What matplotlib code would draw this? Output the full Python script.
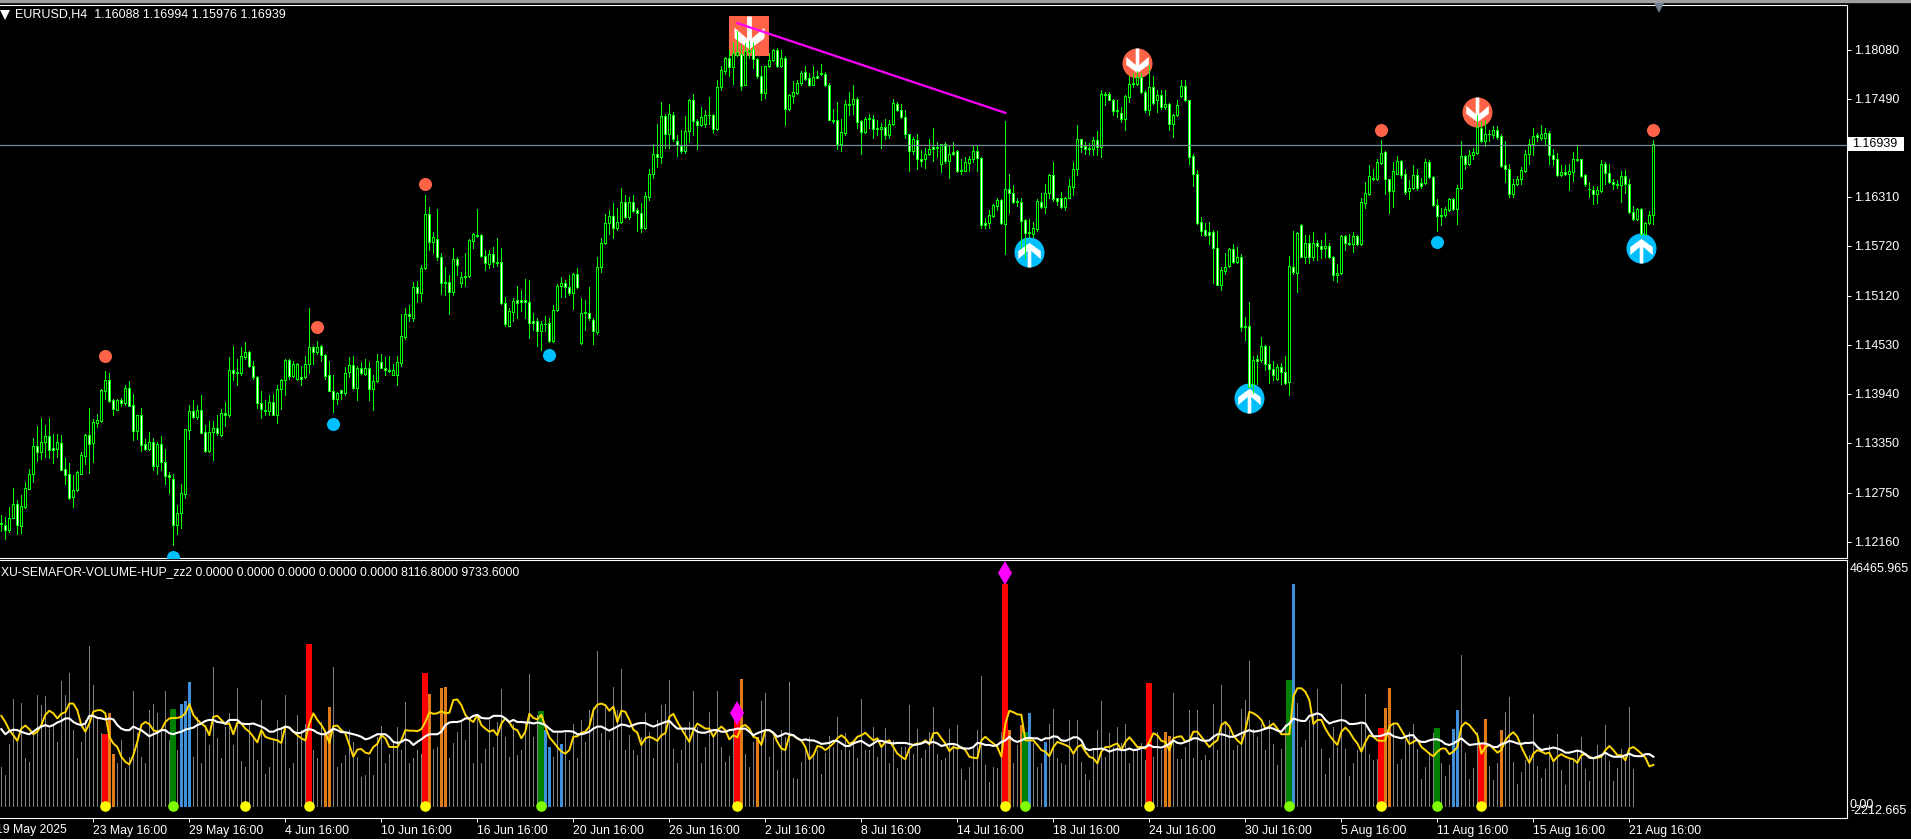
import numpy as np
import matplotlib
matplotlib.use("Agg")
import matplotlib.pyplot as plt
from matplotlib.path import Path
from matplotlib.lines import Line2D
from matplotlib.patches import Rectangle

W, H = 1911, 839
plt.rcParams['font.family'] = ['Liberation Sans', 'DejaVu Sans']

# prices are pips above 1.1000
opens = [237,236,230,244,261,235,258,279,298,331, 324,336,343,329,328,335,303,297,270,278,
 298,319,344,335,359,361,397,411,386,375, 386,383,401,380,349,368,333,327,336,307,
 334,312,296,292,236,250,273,350,373,366, 375,348,325,348,353,344,371,368,422,419,
 419,438,444,427,414,383,375,373,384,369, 400,411,435,415,412,414,414,430,450,444,
 451,441,416,397,388,398,395,420,429,401, 425,418,425,400,409,432,425,422,417,417,
 431,462,490,485,522,515,545,610,577,580, 559,529,529,517,556,527,535,536,578,585,
 585,560,550,562,553,552,503,476,492,507, 507,507,504,482,482,470,478,479,457,495,
 524,527,523,515,538,455,492,491,483,468, 546,576,600,608,593,601,625,607,625,615,
 611,593,631,658,683,679,728,707,729,698, 692,686,710,747,722,718,719,730,729,713,
 763,783,798,787,802,803,766,805,809,797, 776,756,788,796,808,788,798,737,752,756,
 768,781,774,766,776,780,779,766,724,723, 694,708,743,743,749,722,709,725,725,714,
 713,715,705,719,743,735,727,706,686,699, 677,676,683,691,691,671,694,674,685,686,
 662,662,672,676,686,678,600,599,608,620, 627,598,641,636,625,625,603,589,586,592,
 625,619,635,657,629,629,619,630,643,665, 700,692,690,689,699,691,755,755,748,735,
 732,725,751,768,767,775,757,735,763,747, 754,739,743,719,729,752,764,747,680,659,
 601,591,589,589,570,525,542,548,568,552, 558,475,475,406,436,435,452,430,424,412,
 426,420,408,547,539,597,559,575,559,576, 572,569,572,559,537,539,584,576,574,584,
 574,624,634,654,652,672,685,652,638,659, 674,659,638,642,657,648,648,673,655,621,
 609,609,615,628,616,642,680,670,681,684, 714,698,707,705,712,704,669,664,634,647,
 653,662,683,694,705,702,702,708,681,677, 657,661,659,661,676,676,657,641,639,634,
 638,671,660,649,647,645,656,647,613,604, 616,586,600,609]
highs = [248,246,258,280,266,272,288,303,341,355, 365,356,365,345,346,344,317,311,296,301,
 324,346,377,364,370,400,421,419,388,388, 389,404,409,394,369,377,340,348,341,336,
 343,327,300,298,260,285,351,381,386,381, 392,356,361,361,369,376,384,438,451,436,
 450,456,445,434,415,397,386,393,394,405, 412,436,436,434,431,427,439,497,452,458,
 453,442,433,417,396,399,426,438,440,427, 432,436,432,416,442,442,438,440,430,440,
 490,497,501,528,530,549,633,619,589,616, 563,547,537,570,558,540,563,580,588,616,
 586,567,567,571,581,570,510,497,509,524, 519,532,531,491,485,481,487,485,501,526,
 534,531,537,539,545,509,507,522,485,558, 582,610,615,623,618,642,633,631,633,617,
 623,637,664,695,719,745,731,743,733,705, 711,728,749,755,725,739,735,751,731,772,
 788,799,808,817,830,814,816,818,816,798, 788,789,804,809,810,808,800,755,770,772,
 783,788,780,788,782,791,781,768,737,745, 725,748,757,765,751,723,727,731,729,723,
 720,725,723,749,745,743,735,707,703,707, 687,690,701,714,697,695,697,693,697,687,
 677,679,680,693,692,679,606,615,622,630, 628,722,659,645,629,629,604,604,601,628,
 636,646,659,673,630,637,631,653,673,717, 701,697,696,703,710,760,757,757,749,747,
 739,753,776,780,782,780,760,790,776,760, 759,760,744,731,747,772,771,748,682,663,
 607,600,601,591,590,547,563,570,574,571, 562,486,505,439,441,462,453,451,434,430,
 431,439,560,590,589,598,585,585,589,579, 579,588,575,560,550,585,585,586,589,585,
 629,649,669,665,677,699,686,653,673,680, 675,665,651,669,665,654,676,675,656,628,
 617,619,630,630,645,698,681,687,690,730, 722,724,712,716,716,707,698,670,653,656,
 667,687,700,714,708,717,714,710,689,684, 669,669,671,685,693,677,658,649,644,644,
 675,673,671,653,651,662,663,653,620,617, 617,601,614,699]
lows = [229,219,228,244,225,226,257,279,288,313, 315,318,317,311,318,302,286,267,258,277,
 298,309,299,312,354,360,388,384,369,374, 379,381,379,338,340,325,326,326,302,297,
 302,285,275,212,225,232,269,340,365,364, 347,324,324,314,344,343,355,366,410,405,
 416,436,426,412,377,365,368,369,368,359, 376,393,412,414,410,405,413,419,430,442,
 434,412,397,372,382,388,393,414,400,387, 418,417,387,374,408,425,417,420,416,405,
 427,460,482,482,505,506,544,567,563,555, 514,513,490,513,537,523,524,535,570,583,
 559,543,545,547,548,502,475,475,481,485, 493,485,461,471,451,447,470,456,456,493,
 511,511,513,496,521,454,471,483,454,466, 540,574,586,581,591,600,606,604,613,590,
 589,592,627,654,667,672,690,690,698,680, 684,684,697,705,688,716,715,719,708,711,
 760,779,776,767,800,760,765,798,786,774, 747,750,787,795,787,787,717,735,744,755,
 766,772,764,765,774,777,764,724,720,688, 686,705,729,731,714,682,708,714,702,705,
 690,701,702,718,734,726,702,662,683,665, 668,666,681,674,679,661,672,654,681,661,
 659,662,662,673,662,593,593,594,607,615, 598,562,611,624,620,569,557,583,583,590,
 618,612,630,626,621,618,615,629,633,657, 685,683,683,681,681,679,741,747,729,727,
 721,711,745,763,766,756,733,729,743,733, 737,737,711,703,728,751,746,670,644,598,
 585,584,574,527,525,519,538,547,551,551, 469,459,402,395,406,432,422,407,410,411,
 406,406,393,538,517,558,551,551,555,555, 557,559,557,531,529,538,567,573,565,573,
 573,618,633,651,651,670,634,612,619,658, 654,634,628,641,639,642,646,654,620,590,
 597,607,614,615,598,641,665,669,676,683, 697,692,698,702,700,667,649,631,631,645,
 647,661,671,681,698,699,693,670,669,656, 656,657,639,650,674,655,644,631,622,623,
 637,647,648,641,642,625,636,612,603,603, 585,585,598,598]
closes = [238,230,244,261,236,259,280,297,331,324, 336,343,326,326,336,302,296,269,278,300,
 320,344,334,360,363,398,411,385,376,386, 383,401,379,349,368,332,328,336,307,334,
 312,295,294,236,250,274,351,373,366,374, 347,325,348,353,347,371,368,422,419,420,
 439,444,427,414,383,376,373,384,369,400, 411,435,415,430,430,412,430,450,444,450,
 441,415,397,388,395,395,419,429,401,425, 419,425,400,409,433,425,422,421,422,432,
 463,490,488,522,515,545,610,577,583,559, 527,527,517,556,549,535,536,579,586,584,
 560,551,562,553,551,503,478,493,506,503, 504,504,479,479,470,478,478,457,495,524,
 527,523,515,538,522,491,491,485,469,546, 576,600,608,593,601,625,607,625,614,611,
 593,632,659,683,679,728,707,731,700,693, 686,710,747,722,717,727,730,729,713,763,
 784,798,787,804,805,764,806,808,797,776, 756,788,796,808,788,798,737,753,757,768,
 780,773,766,775,774,779,766,724,722,695, 709,743,742,749,721,709,725,725,713,713,
 715,705,719,744,735,727,706,686,701,676, 674,683,689,689,690,694,674,683,683,662,
 663,673,676,686,678,597,597,609,621,627, 599,640,636,625,625,602,588,587,593,626,
 619,636,657,628,626,619,630,644,665,700, 691,689,689,699,691,755,754,748,734,734,
 725,752,767,767,775,757,735,763,744,753, 739,743,719,729,741,764,747,679,658,599,
 590,585,585,570,525,543,547,568,552,558, 474,474,402,435,434,452,430,424,417,426,
 420,407,548,540,588,559,576,559,576,572, 568,572,559,537,539,584,576,574,584,574,
 625,635,656,652,673,684,652,638,662,674, 657,637,642,657,642,644,673,655,621,608,
 608,616,628,616,642,680,670,681,685,715, 698,707,706,712,703,668,664,634,647,653,
 663,683,695,704,703,707,708,681,677,657, 661,659,662,676,675,656,646,640,634,639,
 671,660,649,647,645,656,647,613,604,616, 586,600,609,694]

# volume in thousands
volume = [7.7,6.1,12.2,21.0,12.6,20.2,9.4,8.7,14.6,21.8, 19.8,21.6,15.2,16.2,12.6,24.5,21.8,26.0,14.9,9.4,
 12.6,16.9,31.4,23.7,17.5,14.3,14.1,18.2,10.3,8.4, 12.9,7.4,9.7,22.6,14.3,9.7,8.4,18.8,20.1,18.2,
 14.9,22.6,12.9,19.0,11.0,20.0,20.6,24.3,9.7,17.5, 8.4,15.9,12.0,27.3,13.3,9.4,15.6,18.2,12.0,23.1,
 8.9,7.7,16.2,13.6,9.0,20.8,6.4,7.7,12.9,16.9, 15.6,21.8,7.4,8.4,17.9,14.9,16.2,31.8,11.0,9.4,
 16.5,14.6,19.4,27.3,7.7,8.4,10.0,14.9,12.6,9.7, 5.8,6.1,9.7,6.1,13.6,15.7,8.4,10.3,12.3,15.6,
 11.0,20.5,8.4,9.4,11.0,10.3,26.1,22.0,11.3,11.6, 23.2,23.3,9.4,12.3,14.6,16.9,12.9,16.9,8.4,17.9,
 8.4,11.2,16.9,11.6,16.5,22.9,13.6,9.7,16.2,10.0, 11.0,16.5,25.8,13.6,17.9,18.6,14.9,11.6,9.7,14.3,
 12.2,14.3,9.0,16.2,9.4,16.9,12.6,18.8,19.5,30.3, 14.3,19.5,12.9,23.3,18.8,26.8,11.0,13.9,11.0,10.0,
 13.6,18.2,14.6,9.4,16.9,19.8,20.1,24.7,11.3,8.4, 11.0,15.6,16.5,22.6,15.6,8.4,11.6,18.4,13.6,22.6,
 11.6,8.7,9.8,14.9,16.7,24.9,10.2,7.7,12.6,13.6, 20.6,22.1,9.7,13.6,7.2,14.9,13.6,24.3,5.6,5.4,
 8.6,11.0,13.6,9.7,11.0,6.4,10.5,13.7,11.6,17.4, 11.0,14.3,11.0,12.9,9.4,21.0,11.0,11.1,15.6,9.7,
 11.6,15.4,8.4,12.9,7.5,11.6,11.6,19.8,10.2,15.2, 9.4,11.0,14.6,19.4,10.3,9.0,9.4,15.2,12.3,15.9,
 7.3,5.1,7.7,11.6,14.9,25.5,8.0,4.8,7.7,7.4, 14.6,43.6,14.9,8.4,12.0,15.9,14.6,18.2,12.3,7.7,
 8.4,12.6,16.2,19.0,9.4,8.4,8.0,16.9,10.3,16.9, 8.7,6.4,5.1,11.3,14.9,20.6,9.7,14.3,11.6,15.6,
 12.3,16.1,8.4,11.0,11.0,12.3,9.0,24.1,9.7,14.6, 11.0,14.5,13.7,22.1,9.2,9.2,11.6,18.8,9.4,18.8,
 9.0,10.0,9.0,20.0,11.0,23.7,16.5,14.9,11.0,12.0, 19.0,20.8,28.4,15.2,13.6,16.1,11.0,16.9,12.2,8.0,
 11.2,16.1,24.7,43.6,20.3,11.6,12.9,16.9,18.2,23.0, 11.2,6.4,9.4,15.6,11.6,23.9,11.3,5.9,8.4,11.0,
 16.2,22.0,10.3,9.0,9.2,15.4,19.2,23.2,16.2,8.2, 9.2,12.9,14.6,16.1,11.2,5.4,7.7,10.7,14.3,15.4,
 8.4,5.9,8.0,15.1,18.8,29.6,10.5,5.4,7.4,14.6, 12.3,17.1,7.8,5.1,8.4,14.9,18.4,21.4,8.6,4.3,
 6.7,9.0,10.0,18.1,7.8,5.5,7.3,12.0,9.0,14.1, 7.2,4.1,9.4,9.2,11.0,13.6,7.3,4.9,9.2,12.0,
 9.7,15.9,8.9,4.9,7.4,11.3,9.7,19.4,7.3]
red_bars = [26,77,106,184,251,287,345,370]
green_bars = [43,135,256,322,359]
blue_bars = [45,46,47,136,137,140,257,261,323,363,364]
orange_bars = [27,28,81,82,107,110,111,185,189,252,255,291,292,346,347,371,375]

yellow_a = [17.7,16.5,14.9,13.9,12.8,15.2,15.8,15.1,14.1,14.6,15.9,17.9,18.7,18.2,17.2,18.1,18.4,20.1,20.1,18.8,
 15.9,14.6,16.2,18.5,18.8,18.8,18.2,13.6,12.3,11.6,9.7,8.7,8.2,10.0,12.6,15.9,16.5,16.1,14.9,14.6,
 14.9,16.5,17.2,17.3,17.3,17.5,18.2,20.0,17.9,16.9,16.2,15.6,13.9,17.5,17.7,16.9,16.1,16.2,14.1,16.4,
 16.2,15.2,14.6,13.6,12.5,14.9,13.6,13.3,13.1,12.9,12.4,15.6,15.4,14.6,13.9,13.3,12.9,16.2,18.2,16.9,
 15.9,14.6,12.4,15.7,15.8,14.9,14.3,12.0,9.7,11.1,11.2,10.5,10.3,11.6,12.2,13.9,13.3,11.6,11.6,11.6,
 12.9,14.9,14.8,14.8,14.7,15.1,16.5,18.4,18.1,18.2,18.6,18.2,18.3,20.8,20.9,19.8,17.9,17.0,16.5,17.9,
 15.9,15.2,14.6,14.9,13.9,16.2,17.2,16.4,15.2,14.9,13.3,14.6,18.1,17.3,17.0,17.9,15.6,13.5,12.6,11.6,
 10.7,10.3,11.0,13.6,13.7,14.4,14.6,15.6,18.8,19.9,20.1,19.8,18.7,19.5,16.5,18.7,18.5,16.9,15.0,14.4]
yellow_b = [12.0,13.3,13.6,13.3,12.8,13.9,14.3,17.5,18.1,16.5,15.2,13.9,12.6,14.9,16.2,15.7,15.2,15.2,13.6,14.9,
 15.6,14.9,13.1,13.9,13.5,15.6,15.9,15.2,13.6,13.3,12.0,14.9,14.9,14.3,12.6,11.3,11.0,13.9,13.9,13.3,
 12.9,11.6,9.2,10.0,11.8,11.6,11.0,11.6,12.3,13.3,13.9,13.3,12.2,12.6,13.6,13.9,14.4,13.6,12.9,13.3,
 11.6,12.6,12.9,11.6,10.3,9.7,9.2,11.3,12.0,12.3,12.3,12.9,12.1,14.3,14.4,13.3,12.3,10.8,11.6,11.3,
 11.6,11.0,9.7,9.5,9.4,12.9,13.6,12.9,12.3,11.6,9.7,16.2,18.7,18.4,18.0,17.9,12.9,12.9,12.9,12.0,
 11.0,10.7,9.8,11.6,12.6,12.3,12.0,11.6,10.3,11.6,12.0,10.7,9.7,9.4,8.4,10.7,11.6,11.6,12.0,12.3,
 11.0,12.6,13.5,12.6,11.6,11.6,11.3,12.6,14.3,13.9,12.8,12.6,11.0,13.3,13.6,13.7,12.6,12.9,14.6,14.6,
 13.6,12.6,11.6,12.4,12.9,15.9,16.5,15.6,13.9,12.9,12.2,14.9,18.5,18.2,17.7,16.9,15.2,15.6,16.2,15.2]
yellow_c = [14.1,14.1,14.1,21.5,23.1,23.1,22.4,20.8,16.1,16.9,16.9,15.2,13.9,12.9,12.0,14.6,15.4,14.6,13.3,12.3,
 10.7,12.6,13.9,13.6,12.9,12.8,12.9,15.6,16.2,16.2,14.9,13.6,12.2,12.6,13.1,11.6,11.0,10.3,9.8,10.7,
 11.3,11.3,10.2,10.7,11.6,15.6,16.4,15.9,14.9,13.9,10.3,11.6,12.0,11.3,10.5,11.0,12.9,13.9,14.5,13.6,
 11.6,10.0,8.5,10.3,11.0,10.7,10.3,10.5,8.8,9.7,10.2,9.7,9.4,9.2,8.5,10.0,10.2,9.7,9.4,9.5,
 9.7,11.0,11.8,11.0,10.0,10.0,9.0,11.3,11.6,11.0,10.3,9.5,7.8,8.1]
white_a = [15.1,14.1,14.7,15.0,14.9,14.6,14.3,14.1,14.6,15.2,15.6,15.9,15.6,15.9,16.4,16.7,17.2,17.2,16.5,16.1,
 15.9,16.2,17.7,17.7,17.3,17.2,17.0,17.2,17.0,15.9,15.2,14.9,14.9,15.6,15.2,14.9,14.3,13.7,14.1,14.4,
 14.9,14.9,14.3,14.1,14.4,14.6,15.0,15.2,15.4,15.9,16.2,16.7,16.9,16.9,16.5,16.4,16.2,16.9,16.9,16.9,
 16.2,16.1,16.1,16.2,15.9,15.6,15.2,14.6,14.6,15.0,15.2,15.6,15.4,14.6,14.3,14.4,14.9,15.1,14.9,14.4,
 14.1,14.1,14.6,15.2,14.9,14.5,14.5,14.3,14.1,13.9,13.6,13.1,13.3,13.7,14.1,14.1,14.1,13.5,12.6,12.4,
 12.6,13.1,12.8,12.0,12.6,13.1,13.7,14.1,14.1,14.1,14.6,15.9,16.4,16.5,16.5,16.7,17.2,17.2,17.7,17.9,
 17.3,17.2,17.2,17.7,17.7,17.7,17.2,16.5,16.9,16.5,16.5,16.4,16.4,16.2,16.4,16.2,15.9,15.2,14.6,14.6,
 14.6,14.7,14.7,14.6,14.1,14.1,14.3,14.6,15.2,15.6,15.6,15.2,14.8,15.2,15.6,16.0,15.9,15.6,15.9,16.2]
white_b = [16.3,16.3,15.9,15.6,15.9,16.2,16.5,16.7,15.9,15.2,15.2,15.2,15.2,15.2,14.6,14.4,14.4,14.7,14.9,14.9,
 14.6,14.6,14.9,15.0,15.2,15.2,15.2,14.6,13.9,14.3,14.6,14.9,14.9,14.4,13.6,13.9,14.3,14.1,13.9,13.3,
 12.9,13.1,12.9,12.9,12.6,12.2,12.3,12.4,12.8,12.8,12.3,11.8,11.8,12.3,12.6,12.8,12.3,11.8,12.3,12.8,
 12.8,12.6,12.4,12.3,12.4,12.4,12.4,12.2,12.0,12.1,12.3,12.6,12.4,12.6,12.3,11.8,12.0,12.2,12.2,12.0,
 11.4,11.3,11.3,11.6,12.4,12.3,12.0,12.0,11.8,12.0,12.6,12.9,13.6,12.9,12.6,12.9,13.3,13.4,13.3,13.3,
 12.9,13.3,13.3,13.7,13.6,12.9,12.8,13.1,13.5,13.5,12.9,11.3,11.0,11.2,11.2,11.3,11.1,10.7,11.0,11.2,
 11.0,11.0,11.3,11.0,11.1,11.4,11.6,12.0,11.6,11.6,11.5,11.8,12.2,12.9,12.4,12.3,12.6,12.9,13.3,13.3,
 12.9,12.8,12.9,13.6,14.1,14.1,13.9,13.6,13.6,13.9,14.3,14.6,14.9,14.6,14.7,14.9,15.2,15.4,15.2,14.8]
white_c = [14.6,15.6,16.2,17.2,16.9,16.7,16.7,17.7,17.9,18.2,17.9,16.9,16.2,16.5,16.7,16.9,16.7,16.1,16.1,16.2,
 16.4,16.2,14.9,13.7,13.7,13.8,14.1,14.3,13.7,13.5,13.3,13.6,13.9,13.9,12.9,12.6,12.6,12.9,13.1,13.1,
 12.8,12.2,12.0,12.3,12.8,13.3,12.6,12.0,12.1,12.2,12.3,12.3,12.0,11.6,11.6,12.2,12.4,12.8,12.6,12.3,
 12.2,12.4,12.4,12.5,11.6,11.0,11.2,11.3,11.5,11.3,11.0,10.5,10.5,10.7,10.9,10.7,10.2,9.5,9.4,9.7,
 10.0,10.5,10.0,9.7,9.7,9.7,10.0,10.3,9.9,9.8,9.8,10.2,10.2,9.7]

x_ticks = [23,47,71,95,119,143,167,191,215,239,263,287,311,335,359,383,407]
x_labels = ["23 May 16:00","29 May 16:00","4 Jun 16:00","10 Jun 16:00","16 Jun 16:00","20 Jun 16:00",
            "26 Jun 16:00","2 Jul 16:00","8 Jul 16:00","14 Jul 16:00","18 Jul 16:00","24 Jul 16:00",
            "30 Jul 16:00","5 Aug 16:00","11 Aug 16:00","15 Aug 16:00","21 Aug 16:00"]
price_ticks = [1.18080,1.17490,1.16310,1.15720,1.15120,1.14530,1.13940,1.13350,1.12750,1.12160]
last_price = 1.16939

# markers on the price chart: bar, pips
tomato_bar = [26,79,106,345,413]
tomato_pip = [439,474,647,712,712]
sky_bar = [43,83,137,359]
sky_pip = [197,358,441,577]
down_bar = [284,369]
down_pip = [792,733]
up_bar = [257,312,410]
up_pip = [564,389,570]
square_bar = [187]
square_pip = [824]
trend_bar = [184,251]
trend_pip = [840,732]

# markers on the volume window
yellow_dot = [26,61,77,106,184,251,287,345,370]
lime_dot = [43,135,256,322,359]
diamond_bar = [184,251]
diamond_val = [18.2,45.7]


def to_price(p):
    return 1.1 + np.array(p, dtype=float) / 10000


def px_box(x0, y0, x1, y1):
    return [x0 / W, 1 - y1 / H, (x1 - x0) / W, (y1 - y0) / H]


fig = plt.figure(figsize=(W / 100, H / 100), dpi=100, facecolor='black')
ax = fig.add_axes(px_box(0, 4.7, 1847, 558.3), facecolor='black')
ax2 = fig.add_axes(px_box(0, 560, 1847, 818.3), facecolor='black')

xlim = (-0.33, 461.4)
for a in (ax, ax2):
    a.set_xlim(*xlim)
    for s in a.spines.values():
        s.set_color('white')
        s.set_linewidth(0.8)
    a.spines['left'].set_visible(False)
    a.yaxis.tick_right()
    a.tick_params(colors='white', width=0.72, length=3, pad=2)

ax.set_ylim(1.11960, 1.18622)
ax2.set_ylim(-2.35, 48.2)

# arrow icon drawn white on the big circles
down_verts = [(-.12, 1), (.12, 1), (.12, -.1), (.75, .44), (.75, -.09), (0, -.64), (-.75, -.09), (-.75, .44), (-.12, -.1), (-.12, 1)]
down_arrow = Path(down_verts, closed=True)
up_arrow = Path([(x, -y) for x, y in down_verts], closed=True)

ax.scatter(square_bar, to_price(square_pip), s=829, marker='s', color='#ff6347', linewidths=0, zorder=1)
ax.scatter(square_bar, to_price(square_pip), s=829, marker=down_arrow, color='white', linewidths=0, zorder=1.1)
ax.scatter(down_bar, to_price(down_pip), s=467, color='#ff6347', linewidths=0, zorder=1)
ax.scatter(down_bar, to_price(down_pip), s=467, marker=down_arrow, color='white', linewidths=0, zorder=1.1)
ax.scatter(up_bar, to_price(up_pip), s=467, color='#00bfff', linewidths=0, zorder=1)
ax.scatter(up_bar, to_price(up_pip), s=467, marker=up_arrow, color='white', linewidths=0, zorder=1.1)

# candles
op = to_price(opens)
hi = to_price(highs)
lo = to_price(lows)
cl = to_price(closes)
bars = np.arange(len(op))
ax.vlines(bars, lo, hi, color='#00ff00', lw=0.72, antialiased=False, zorder=2)
body_low = np.minimum(op, cl)
body_h = np.maximum(np.abs(cl - op), 0.00005)
fills = ['white' if c <= o else 'black' for o, c in zip(op, cl)]
ax.bar(bars, body_h, bottom=body_low, width=0.5, color=fills, edgecolor='#00ff00', linewidth=0.72, antialiased=False, zorder=2.1)

ax.axhline(last_price, color='#778899', lw=0.9, zorder=2.5)
ax.plot(trend_bar, to_price(trend_pip), color='#ff00ff', lw=1.6, zorder=3)
ax.scatter(tomato_bar, to_price(tomato_pip), s=88, color='#ff6347', linewidths=0, zorder=3)
ax.scatter(sky_bar, to_price(sky_pip), s=88, color='#00bfff', linewidths=0, zorder=3)

ax.set_xticks([])
ax.set_yticks(price_ticks)
ax.set_yticklabels(['%.5f' % p for p in price_ticks], fontsize=9)

# volume window
vol = np.array(volume)
vbars = np.arange(len(vol))
ax2.vlines(vbars, 0, vol, color='#808080', lw=0.72, antialiased=False, zorder=1)
ax2.vlines(orange_bars, 0, vol[orange_bars], color='#e07b1a', lw=2.1, antialiased=False, zorder=1.2)
ax2.vlines(blue_bars, 0, vol[blue_bars], color='#3d8fd9', lw=2.1, antialiased=False, zorder=1.2)
ax2.vlines(green_bars, 0, vol[green_bars], color='#008000', lw=2.9, antialiased=False, zorder=1.3)
ax2.vlines(red_bars, 0, vol[red_bars], color='#ff0000', lw=2.9, antialiased=False, zorder=1.3)

parts_x = np.concatenate([np.arange(len(yellow_a)), 160 + np.arange(len(yellow_b)), 320 + np.arange(len(yellow_c))])
ax2.plot(parts_x, yellow_a + yellow_b + yellow_c, color='#ffd700', lw=1.4, zorder=2)
parts_x = np.concatenate([np.arange(len(white_a)), 160 + np.arange(len(white_b)), 320 + np.arange(len(white_c))])
ax2.plot(parts_x, white_a + white_b + white_c, color='white', lw=1.5, zorder=2.1)

ax2.scatter(yellow_dot, [0] * len(yellow_dot), s=58, color='#ffff00', linewidths=0, zorder=3)
ax2.scatter(lime_dot, [0] * len(lime_dot), s=58, color='#7fff00', linewidths=0, zorder=3)
ax2.plot(diamond_bar, diamond_val, ls='none', marker='d', ms=12, color='#ff00ff', mew=0, zorder=3)

ax2.set_xticks(x_ticks)
ax2.set_xticklabels(x_labels, fontsize=8.8, ha='left')
ax2.set_yticks([])
for lab in ax2.get_xticklabels():
    lab.set_color('white')
ax2.text(-1.4, -3.4, '19 May 2025', fontsize=8.8, color='white', ha='left', va='top', clip_on=False)


def px_text(x, y, s, **kw):
    kw.setdefault('color', 'white')
    kw.setdefault('fontsize', 9)
    kw.setdefault('va', 'center')
    fig.text(x / W, 1 - y / H, s, **kw)


px_text(15, 14.5, 'EURUSD,H4  1.16088 1.16994 1.15976 1.16939')
px_text(1, 572, 'XU-SEMAFOR-VOLUME-HUP_zz2 0.0000 0.0000 0.0000 0.0000 0.0000 8116.8000 9733.6000', fontsize=8.75)
px_text(1850, 569, '46465.965')
px_text(1850, 805, '0.00')
px_text(1907, 811, '-2212.665', ha='right')

# white box behind the current price
fig.add_artist(Rectangle((1848 / W, 1 - 150.7 / H), 56 / W, 13.7 / H, color='white', lw=0, transform=fig.transFigure))
px_text(1852.5, 144, '%.5f' % last_price, color='black')

fig.add_artist(Line2D([5 / W], [1 - 14.5 / H], marker='v', ms=6.5, color='white', mew=0, ls='none', transform=fig.transFigure))
fig.add_artist(Line2D([1659 / W], [1 - 7.5 / H], marker='v', ms=7, color='#708090', mew=0, ls='none', transform=fig.transFigure))
fig.add_artist(Rectangle((0, 1 - 2.2 / H), 1, 2.2 / H, color='#a0a0a0', transform=fig.transFigure))

fig.savefig('out.png', dpi=100, facecolor='black')
